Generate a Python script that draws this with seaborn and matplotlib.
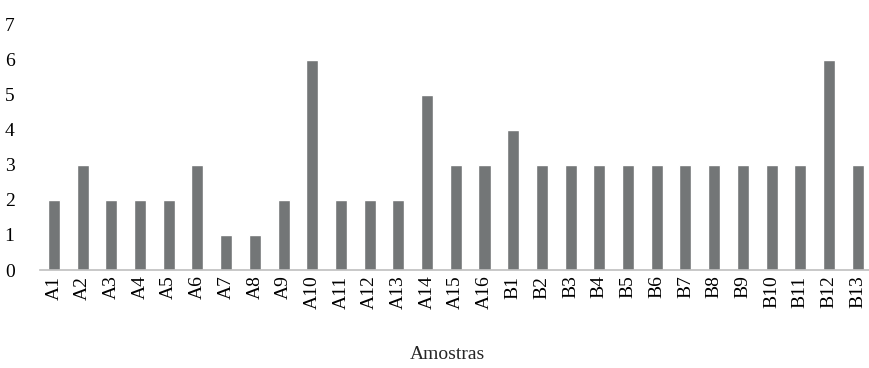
import pandas as pd
import numpy as np
import matplotlib.pyplot as plt
import seaborn as sns

# - Data -
amostras = [f"A{i}" for i in range(1, 17)] + [f"B{i}" for i in range(1, 14)]
valores = [2, 3, 2, 2, 2, 3, 1, 1, 2, 6, 2, 2, 2, 5, 3, 3,
           4, 3, 3, 3, 3, 3, 3, 3, 3, 3, 3, 6, 3]

df = pd.DataFrame({"Amostras": amostras, "Valor": valores})

sns.set_style("white")
plt.rcParams['font.family'] = ['Liberation Serif', 'DejaVu Serif']

fig = plt.figure(figsize=(8.69, 3.68), dpi=100)
ax = fig.add_axes([0.0455, 0.2663, 0.958, 0.6658])

sns.barplot(data=df, x="Amostras", y="Valor", color="#737677", width=0.42,
            saturation=1, ax=ax)

ax.set_xlim(-0.5, len(amostras) - 0.5)
ax.set_ylim(0, 7)
ax.set_yticks(range(0, 8))
for s in ["top", "right", "left"]:
    ax.spines[s].set_visible(False)
ax.spines["bottom"].set_color("#bfbfbf")
ax.spines["bottom"].set_linewidth(1.2)
ax.tick_params(axis="both", length=0, labelsize=14, colors="black")
ax.tick_params(axis="y", pad=18)
ax.tick_params(axis="x", pad=4)
plt.setp(ax.get_xticklabels(), rotation=90)
ax.set_ylabel("")
ax.set_xlabel("Amostras", fontsize=14)
ax.xaxis.set_label_coords(0.49, -0.31)

fig.savefig("out.png", dpi=100)
